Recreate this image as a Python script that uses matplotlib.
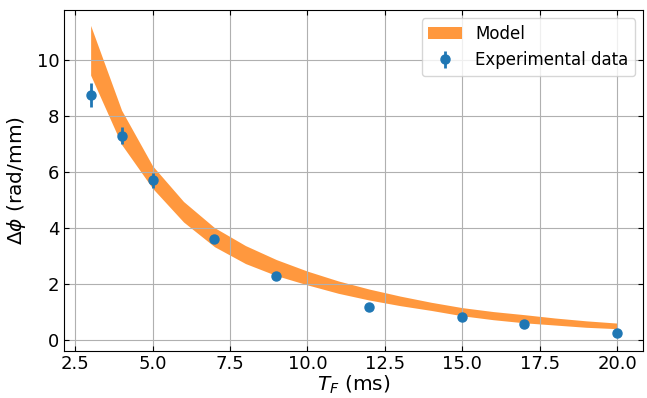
import matplotlib
matplotlib.use("Agg")
import matplotlib.pyplot as plt

# model band (edges sampled at integer T_F)
model_t = [3, 4, 5, 6, 7, 8, 9, 10, 11, 12, 13, 14, 15, 16, 17, 18, 19, 20]
model_hi = [11.22, 8.20, 6.22, 4.95, 4.02, 3.38, 2.88, 2.47, 2.12, 1.83,
            1.58, 1.36, 1.17, 1.03, 0.92, 0.80, 0.70, 0.62]
model_lo = [9.45, 6.98, 5.42, 4.22, 3.34, 2.74, 2.31, 1.98, 1.68, 1.44,
            1.24, 1.07, 0.88, 0.74, 0.63, 0.55, 0.47, 0.42]

# measurements
exp_t = [3, 4, 5, 7, 9, 12, 15, 17, 20]
exp_dphi = [8.75, 7.30, 5.70, 3.62, 2.28, 1.21, 0.83, 0.57, 0.25]
exp_err = [0.43, 0.32, 0.27, 0.15, 0.10, 0.08, 0.07, 0.06, 0.06]

fig = plt.figure(figsize=(6.47, 3.98), dpi=100)
ax = fig.add_axes([0.0994, 0.119, 0.895, 0.856])

ax.fill_between(model_t, model_lo, model_hi, color="C1", alpha=0.8,
                linewidth=0, label="Model")
ax.errorbar(exp_t, exp_dphi, yerr=exp_err, fmt="o", color="C0",
            markersize=6.5, elinewidth=2, label="Experimental data")

ax.set_xlabel(r"$T_F$ (ms)", fontsize=14.5, labelpad=0)
ax.set_ylabel(r"$\Delta\phi$ (rad/mm)", fontsize=14.5, labelpad=6)
ax.tick_params(direction="in", top=True, right=True, labelsize=13)
ax.grid(True)
ax.legend(loc="upper right", fontsize=12)

fig.savefig("out.png", dpi=100)
